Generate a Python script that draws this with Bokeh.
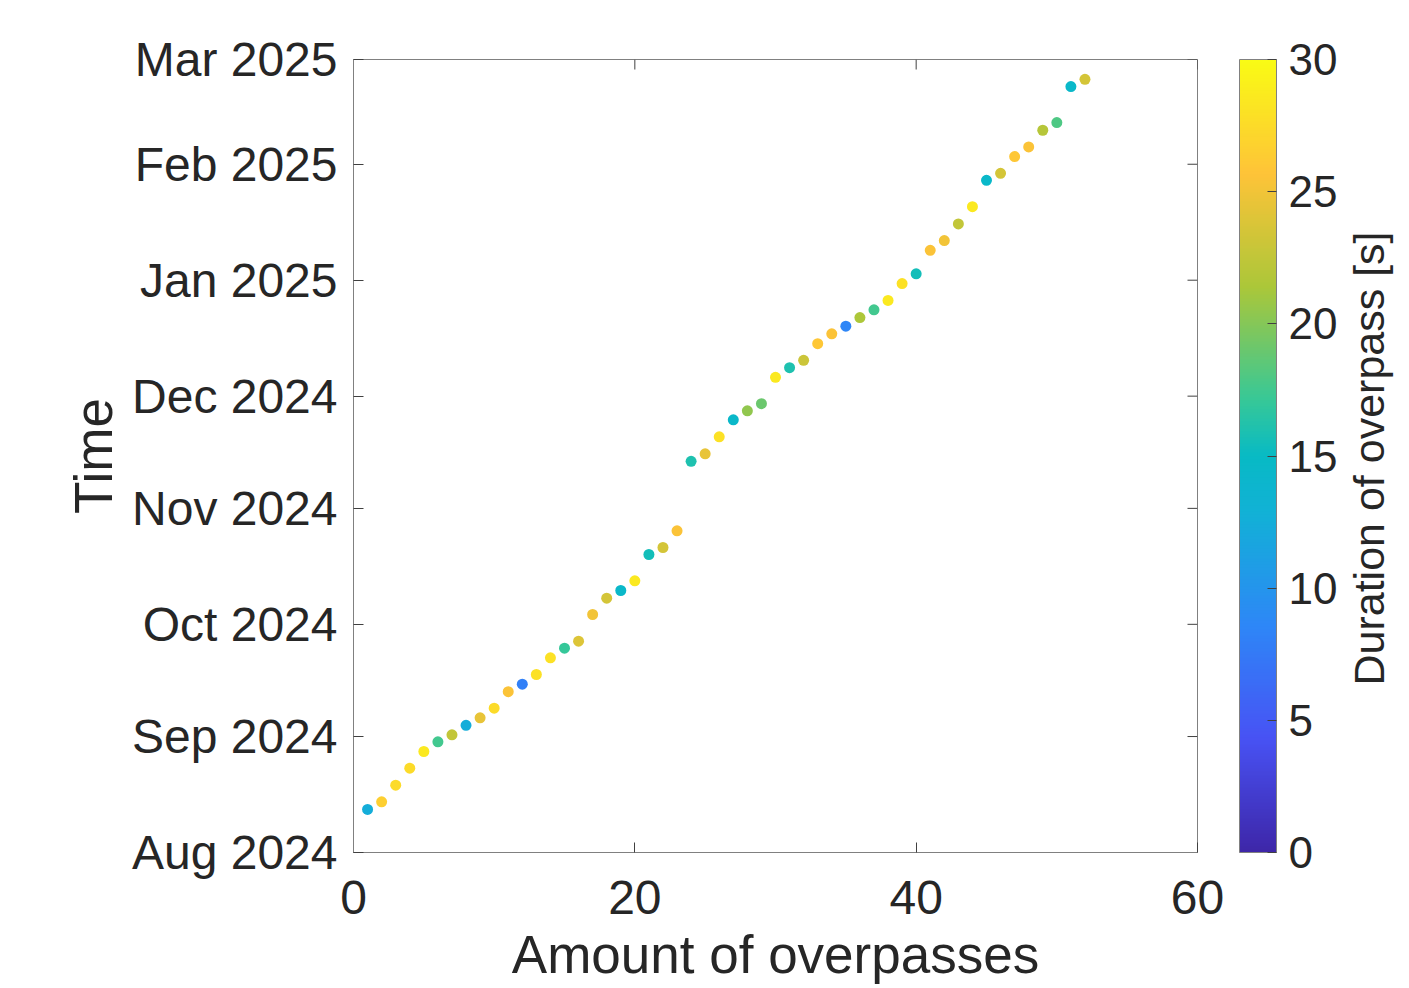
import math
import pandas as pd
from bokeh.plotting import figure
from bokeh.layouts import row
from bokeh.models import (LinearAxis, FixedTicker, DatetimeTickFormatter, ColorBar,
                          LinearColorMapper, ColumnDataSource, Range1d, Label)
from bokeh.transform import transform
from bokeh.embed import file_html
from bokeh.resources import INLINE

# ---------------- data ----------------
overpass_index = [1, 2, 3, 4, 5, 6, 7, 8, 9, 10, 11, 12, 13, 14, 15, 16, 17, 18, 19, 20,
                  21, 22, 23, 24, 25, 26, 27, 28, 29, 30, 31, 32, 33, 34, 35, 36, 37, 38, 39, 40,
                  41, 42, 43, 44, 45, 46, 47, 48, 49, 50, 51, 52]
pass_times = ["2024-08-12 12:00", "2024-08-14 13:00", "2024-08-19 00:00", "2024-08-23 13:00",
              "2024-08-28 00:00", "2024-08-30 14:00", "2024-09-01 11:00", "2024-09-04 00:00",
              "2024-09-06 00:00", "2024-09-08 14:00", "2024-09-13 00:00", "2024-09-15 00:00",
              "2024-09-17 14:00", "2024-09-22 01:00", "2024-09-24 15:00", "2024-09-26 12:00",
              "2024-10-03 15:00", "2024-10-08 00:00", "2024-10-10 01:00", "2024-10-12 15:00",
              "2024-10-19 16:00", "2024-10-21 13:00", "2024-10-26 00:00", "2024-11-13 14:00",
              "2024-11-15 14:00", "2024-11-20 03:00", "2024-11-24 16:00", "2024-11-27 02:00",
              "2024-11-29 00:00", "2024-12-06 01:00", "2024-12-08 15:00", "2024-12-10 14:00",
              "2024-12-15 01:00", "2024-12-17 16:00", "2024-12-19 17:00", "2024-12-22 00:00",
              "2024-12-24 02:00", "2024-12-26 14:00", "2024-12-31 02:00", "2025-01-02 17:00",
              "2025-01-09 00:00", "2025-01-11 14:00", "2025-01-16 01:00", "2025-01-20 16:00",
              "2025-01-27 17:00", "2025-01-29 14:00", "2025-02-03 01:00", "2025-02-05 15:00",
              "2025-02-10 02:00", "2025-02-12 03:00", "2025-02-21 18:00", "2025-02-23 17:00"]
duration_s = [12.5, 26.5, 27.5, 27.5, 28.5, 17.5, 22.5, 12.5, 24.5, 27.5,
              25.5, 8.0, 28.0, 28.0, 17.0, 24.0, 25.0, 23.5, 14.5, 28.5,
              15.5, 23.5, 25.5, 16.0, 24.5, 28.0, 14.5, 20.5, 19.0, 28.5,
              16.0, 23.0, 26.0, 25.5, 8.5, 21.5, 17.5, 28.5, 28.0, 15.5,
              25.5, 25.0, 22.5, 28.5, 14.5, 23.5, 26.0, 25.5, 22.0, 18.0,
              14.5, 23.5]
time_ticks = ["2024-08-01", "2024-09-01", "2024-10-01", "2024-11-01",
              "2024-12-01", "2025-01-01", "2025-02-01", "2025-03-01"]
x_ticks = [0, 20, 40, 60]
cbar_ticks = [0, 5, 10, 15, 20, 25, 30]

# ---------------- colormap (parula-like) ----------------
parula_anchors = [
    (0.0, (0.2422, 0.1504, 0.6603)),
    (1 / 7, (0.2810, 0.3228, 0.9579)),
    (2 / 7, (0.1786, 0.5289, 0.9682)),
    (3 / 7, (0.0689, 0.6948, 0.8394)),
    (0.5, (0.0300, 0.7300, 0.7700)),
    (4 / 7, (0.2161, 0.7843, 0.5923)),
    (5 / 7, (0.6720, 0.7793, 0.2227)),
    (6 / 7, (0.9970, 0.7659, 0.2199)),
    (1.0, (0.9769, 0.9839, 0.0805)),
]


def build_palette(n=256):
    pal = []
    for i in range(n):
        t = i / (n - 1)
        for (t0, c0), (t1, c1) in zip(parula_anchors[:-1], parula_anchors[1:]):
            if t0 <= t <= t1:
                f = (t - t0) / (t1 - t0) if t1 > t0 else 0
                c = [c0[k] + f * (c1[k] - c0[k]) for k in range(3)]
                break
        pal.append("#%02x%02x%02x" % tuple(int(round(v * 255)) for v in c))
    return pal


palette = build_palette()
mapper = LinearColorMapper(palette=palette, low=0, high=30)

TXT = "#262626"
FONT = "Liberation Sans"
AX = "#808080"
TICK = "#404040"

src = ColumnDataSource(dict(x=overpass_index, t=pd.to_datetime(pass_times), d=duration_s))

t_start = pd.Timestamp(time_ticks[0])
t_end = pd.Timestamp(time_ticks[-1])
tick_ms = [pd.Timestamp(s).value / 1e6 for s in time_ticks]

MAIN_W = 1342
BORDER_L, BORDER_T, BORDER_B = 353, 59, 134
FRAME_W, FRAME_H = 844, 793
TOTAL_H = BORDER_T + FRAME_H + BORDER_B

p = figure(frame_width=FRAME_W, frame_height=FRAME_H,
           x_range=Range1d(0, 60), y_range=Range1d(t_start, t_end),
           y_axis_type="datetime", output_backend="svg", toolbar_location=None,
           min_border_left=BORDER_L, min_border_top=BORDER_T, min_border_bottom=BORDER_B,
           min_border_right=MAIN_W - BORDER_L - FRAME_W, background_fill_color="white",
           border_fill_color="white", outline_line_color=AX, outline_line_width=1)
p.xgrid.visible = False
p.ygrid.visible = False

p.scatter("x", "t", source=src, size=11, line_color=None,
          fill_color=transform("d", mapper))

# inward box ticks on top and right edges
top_src = ColumnDataSource(dict(x=x_ticks, y=[t_end] * len(x_ticks)))
p.ray(x="x", y="y", source=top_src, length=10, length_units="screen",
      angle=-math.pi / 2, line_color=TICK, line_width=1)
right_src = ColumnDataSource(dict(x=[x_ticks[-1]] * len(time_ticks), y=pd.to_datetime(time_ticks)))
p.ray(x="x", y="y", source=right_src, length=10, length_units="screen",
      angle=math.pi, line_color=TICK, line_width=1)


def style_axis(ax, font_size="48px"):
    ax.axis_line_color = AX
    ax.major_tick_line_color = TICK
    ax.major_tick_in = 10
    ax.major_tick_out = 0
    ax.minor_tick_line_color = None
    ax.major_label_text_font = FONT
    ax.major_label_text_font_size = font_size
    ax.major_label_text_color = TXT
    ax.axis_label_text_font = FONT
    ax.axis_label_text_color = TXT
    ax.axis_label_text_font_style = "normal"


xa = p.xaxis[0]
style_axis(xa)
xa.ticker = FixedTicker(ticks=x_ticks)
xa.axis_label = "Amount of overpasses"
xa.axis_label_text_font_size = "53px"
xa.major_label_standoff = 28
xa.axis_label_standoff = 8

ya = p.yaxis[0]
style_axis(ya)
ya.ticker = FixedTicker(ticks=tick_ms)
ya.formatter = DatetimeTickFormatter(months="%b %Y", days="%b %Y", hours="%b %Y",
                                     years="%b %Y", minutes="%b %Y")
ya.axis_label = "Time"
ya.axis_label_text_font_size = "53px"
ya.major_label_standoff = 16
ya.axis_label_standoff = 6

# spacer between frame and colour bar
spacer = LinearAxis(ticker=FixedTicker(ticks=[]), axis_line_color=None,
                    major_tick_line_color=None, minor_tick_line_color=None,
                    major_tick_in=0, major_tick_out=0, major_label_standoff=0,
                    axis_label=" ", axis_label_text_font_size="20px",
                    axis_label_standoff=17)
p.add_layout(spacer, "right")

cb = ColorBar(color_mapper=mapper, ticker=FixedTicker(ticks=cbar_ticks),
              width=37, margin=0, padding=0, label_standoff=12,
              major_label_text_font=FONT, major_label_text_font_size="44px",
              major_label_text_color=TXT, major_tick_in=9, major_tick_out=0,
              major_tick_line_color=TICK, minor_tick_line_color=None,
              bar_line_color=AX, bar_line_width=1, border_line_color=None,
              background_fill_color=None)
p.add_layout(cb, "right")

# narrow companion canvas holding the rotated colour-bar title
TITLE_W = 64
q = figure(frame_width=TITLE_W, frame_height=TOTAL_H,
           x_range=Range1d(0, TITLE_W), y_range=Range1d(0, TOTAL_H),
           x_axis_location=None, y_axis_location=None, min_border=0,
           output_backend="svg", toolbar_location=None, outline_line_color=None,
           background_fill_color="white", border_fill_color="white")
q.xgrid.visible = False
q.ygrid.visible = False
q.add_layout(Label(x=1368 - MAIN_W, y=TOTAL_H - 457 + 58, text="Duration of overpass [s]",
                   angle=math.pi / 2, text_align="center", text_baseline="middle",
                   text_font=FONT, text_font_size="43px", text_color=TXT))

layout = row(p, q, spacing=0)
open("out.html", "w").write(file_html(layout, INLINE))
